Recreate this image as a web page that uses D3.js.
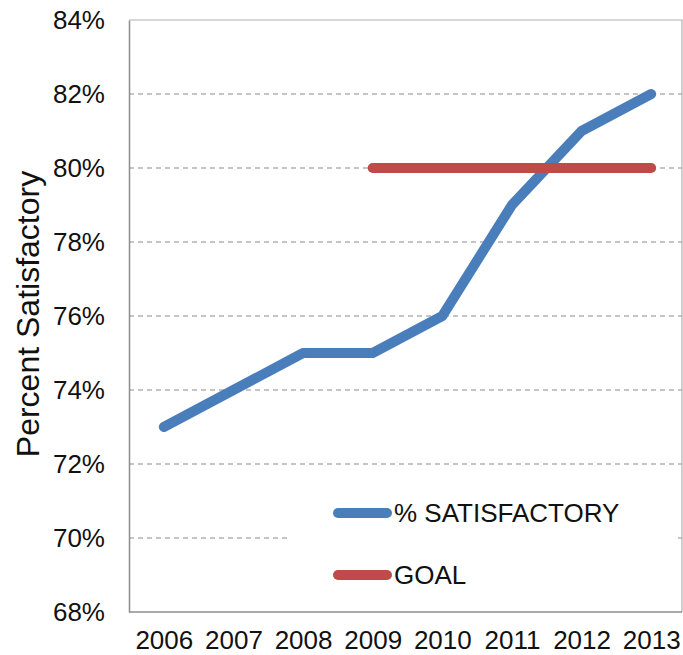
<!DOCTYPE html>
<html>
<head>
<meta charset="utf-8">
<script src="https://cdn.jsdelivr.net/npm/d3@7"></script>
<style>
  html, body { margin: 0; padding: 0; background: #fff; }
  svg { display: block; font-family: "Liberation Sans", Arial, sans-serif; }
</style>
</head>
<body>
<svg id="chart" width="683" height="655"></svg>
<script>
const years = ["2006", "2007", "2008", "2009", "2010", "2011", "2012", "2013"];
const satisfactory = [73, 74, 75, 75, 76, 79, 81, 82];
const goalYears = ["2009", "2010", "2011", "2012", "2013"];
const goalValues = [80, 80, 80, 80, 80];
const yTicks = [68, 70, 72, 74, 76, 78, 80, 82, 84];
const seriesNames = ["% SATISFACTORY", "GOAL"];
const seriesColors = ["#4a7ebb", "#be4b48"];

const svg = d3.select("#chart");
const mLeft = 129, mTop = 20, mBottom = 612, mRight = 682;

const x = d3.scalePoint().domain(years).range([mLeft, 686]).padding(0.5);
const y = d3.scaleLinear().domain([68, 84]).range([mBottom, mTop]);

const axisColor = "#8c8c8c";
const textColor = "#111";

// gridlines
svg.append("g").selectAll("line")
  .data(yTicks.filter(d => d > 68 && d < 84))
  .join("line")
  .attr("x1", mLeft).attr("x2", mRight)
  .attr("y1", d => y(d)).attr("y2", d => y(d))
  .attr("stroke", "#8c8c8c").attr("stroke-width", 1.2)
  .attr("stroke-dasharray", "5,4");

// frame (top and right)
svg.append("path")
  .attr("d", `M${mLeft},${y(84)}H${mRight}V${y(68)}`)
  .attr("fill", "none").attr("stroke", "#b0b0b0").attr("stroke-width", 1.2);

// axes
const yAxis = d3.axisLeft(y).tickValues(yTicks).tickFormat(d => d + "%").tickSize(0).tickPadding(24);
const gy = svg.append("g").attr("transform", `translate(${mLeft},0)`).call(yAxis);
gy.select(".domain").attr("stroke", axisColor).attr("stroke-width", 1.5);
gy.selectAll("text").attr("font-size", 26).attr("fill", textColor)
  .attr("font-family", "Liberation Sans, Arial, sans-serif");

const xAxis = d3.axisBottom(x).tickSize(0).tickPadding(19);
const gx = svg.append("g").attr("transform", `translate(0,${mBottom})`).call(xAxis);
gx.select(".domain").attr("d", `M${mLeft},0H${mRight}`).attr("stroke", axisColor).attr("stroke-width", 1.5);
gx.selectAll("text").attr("font-size", 26).attr("fill", textColor)
  .attr("font-family", "Liberation Sans, Arial, sans-serif");

// y label
svg.append("text")
  .attr("transform", `translate(39,314) rotate(-90)`)
  .attr("text-anchor", "middle")
  .attr("font-size", 32)
  .attr("fill", textColor)
  .text("Percent Satisfactory");

// lines
const line = d3.line().x(d => x(d[0])).y(d => y(d[1]));
svg.append("path")
  .datum(years.map((yr, i) => [yr, satisfactory[i]]))
  .attr("d", line)
  .attr("fill", "none").attr("stroke", seriesColors[0]).attr("stroke-width", 10)
  .attr("stroke-linecap", "round").attr("stroke-linejoin", "round");

// legend background
svg.append("rect")
  .attr("x", 288).attr("y", 488).attr("width", 388).attr("height", 110)
  .attr("fill", "#fff");

svg.append("path")
  .datum(goalYears.map((yr, i) => [yr, goalValues[i]]))
  .attr("d", line)
  .attr("fill", "none").attr("stroke", seriesColors[1]).attr("stroke-width", 10)
  .attr("stroke-linecap", "round");

// legend
const lg = svg.append("g").selectAll("g").data(seriesNames).join("g")
  .attr("transform", (d, i) => `translate(0,${513 + i * 62})`);
lg.append("line").attr("x1", 338).attr("x2", 387).attr("y1", 0).attr("y2", 0)
  .attr("stroke", (d, i) => seriesColors[i]).attr("stroke-width", 10).attr("stroke-linecap", "round");
lg.append("text").attr("x", 394).attr("y", 9).attr("font-size", 26).attr("fill", textColor)
  .text(d => d);
</script>
</body>
</html>
